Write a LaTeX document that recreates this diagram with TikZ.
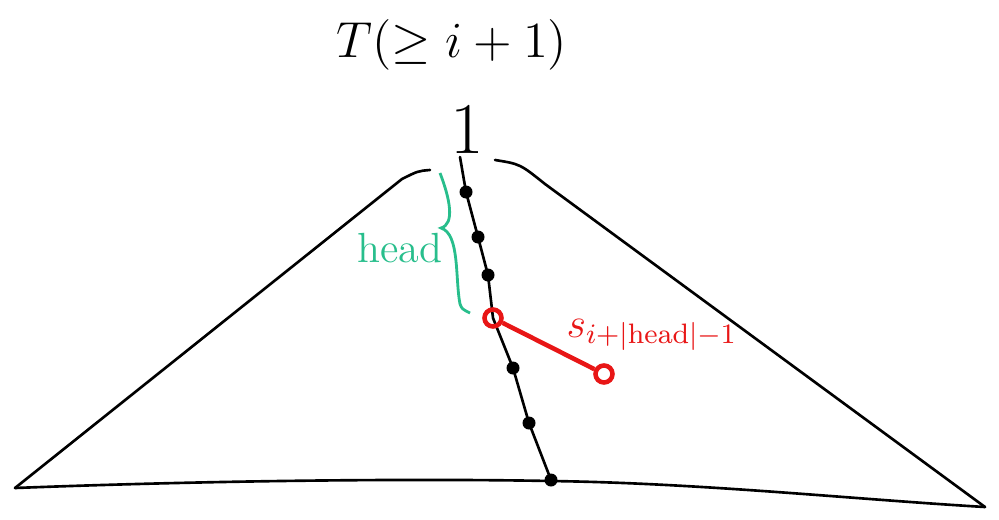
\documentclass[tikz,border=0pt]{standalone}
\definecolor{headgreen}{RGB}{40,190,140}
\definecolor{sred}{RGB}{232,22,22}
\begin{document}
\begin{tikzpicture}[
  dot/.style={circle,fill=black,inner sep=0pt,minimum size=0.13cm},
  ring/.style={circle,draw=sred,line width=1.3pt,inner sep=0pt,minimum size=0.17cm},
  outline/.style={line width=0.75pt,line cap=round}
]
\useasboundingbox (0,0) rectangle (9.99,5.19);
\node (title) at (4.52,4.74) {\Large $T(\geq i+1)$};
\node (root) at (4.67,3.89) {\huge $1$};
% the tree
\draw[outline] (4.30,3.49) .. controls (4.18,3.48) .. (4.02,3.40) -- (0.15,0.31);
\draw[outline] (4.95,3.59) .. controls (5.20,3.55) .. (5.45,3.35) -- (9.85,0.12);
\draw[outline] (0.15,0.31) .. controls (2.5,0.40) and (4.5,0.40) .. (5.50,0.38) .. controls (7.0,0.36) and (8.5,0.20) .. (9.85,0.12);
% the path
\coordinate (top) at (4.60,3.62);
\node[dot] (d1) at (4.66,3.27) {};
\node[dot] (d2) at (4.78,2.82) {};
\node[dot] (d3) at (4.88,2.44) {};
\node[dot] (d4) at (5.13,1.51) {};
\node[dot] (d5) at (5.29,0.96) {};
\node[dot] (bot) at (5.51,0.39) {};
\coordinate (r1pos) at (4.93,2.01);
\draw[outline] (top) -- (d1.center) -- (d2.center) -- (d3.center) -- (r1pos) -- (d4.center) -- (d5.center) -- (bot.center);
\node[ring] (r1) at (r1pos) {};
\node[ring] (r2) at (6.04,1.45) {};
\draw[sred,line width=1.3pt] (r1) -- (r2);
\node[sred] (slabel) at (6.52,1.84) {\large $s_{i+|\mathrm{head}|-1}$};
% head
\draw[headgreen,line width=0.8pt] (4.40,3.46) .. controls (4.50,3.20) and (4.55,2.95) .. (4.41,2.91) .. controls (4.60,2.85) and (4.55,2.40) .. (4.60,2.15) .. controls (4.62,2.10) .. (4.70,2.06);
\node[headgreen] (head) at (4.00,2.71) {\large head};
\end{tikzpicture}
\end{document}
